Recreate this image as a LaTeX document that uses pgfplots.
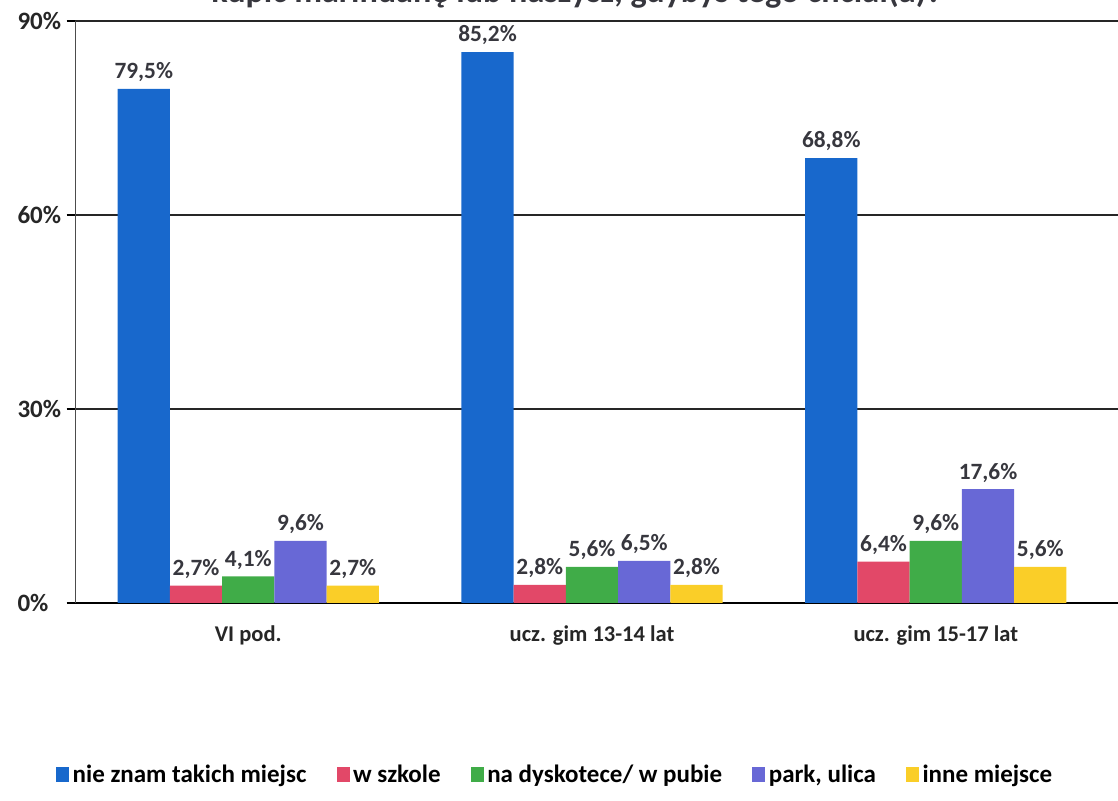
\documentclass[border=0pt]{standalone}
\usepackage{fontspec}
\setmainfont{Carlito}
\usepackage{pgfplots}
\pgfplotsset{compat=1.18}
\definecolor{cblue}{RGB}{24,104,204}
\definecolor{cred}{RGB}{226,72,104}
\definecolor{cgreen}{RGB}{64,172,72}
\definecolor{cpurple}{RGB}{104,104,214}
\definecolor{cyellow}{RGB}{250,206,40}
\definecolor{labgray}{RGB}{55,55,62}
\begin{document}
\begin{tikzpicture}
\useasboundingbox (0,0) rectangle (670.8pt,480.6pt);
\node[font=\fontsize{20.5}{24}\selectfont\bfseries, text=labgray] at (346pt,485pt) {kupić marihuanę lub haszysz, gdybyś tego chciał(a)?};
\begin{axis}[
  at={(45pt,118.8pt)}, anchor=south west,
  scale only axis, width=625.8pt, height=349.2pt,
  ymin=0, ymax=90, xmin=-0.504, xmax=2.53,
  ytick={0,30,60,90}, yticklabels={0\%,30\%,60\%,90\%},
  xtick={0,1,2}, xticklabels={VI pod.,ucz. gim 13-14 lat,ucz. gim 15-17 lat},
  xtick style={draw=none},
  ytick style={black, line width=0.8pt},
  tick align=outside, major tick length=5pt,
  axis x line*=bottom, axis y line*=left,
  x axis line style={black, line width=1pt, -},
  y axis line style={black!70, line width=0.6pt, -},
  ymajorgrids, grid style={black!85, line width=0.8pt},
  ticklabel style={font=\fontsize{15}{18}\selectfont\bfseries, text=black!85},
  yticklabel style={anchor=west, xshift=-33pt},
  xticklabel style={yshift=-5pt, font=\fontsize{13.5}{16}\selectfont\bfseries},
  ybar=0pt, bar width=0.152,
  every axis plot/.append style={draw=none},
  point meta=explicit symbolic,
  nodes near coords,
  nodes near coords style={font=\fontsize{14}{16}\selectfont\bfseries, text=labgray, inner sep=4pt},
  clip=false,
  legend columns=5,
  legend style={at={(0.461,-0.2955)}, anchor=center, draw=none, fill=none,
    font=\fontsize{15}{18}\selectfont\bfseries,
    /tikz/every even column/.append style={column sep=16pt}},
  legend image code/.code={\fill[#1] (0pt,-4pt) rectangle (8pt,5pt);},
]
\addplot[fill=cblue] coordinates {(0,79.5) [79,5\%] (1,85.2) [85,2\%] (2,68.8) [68,8\%]};
\addplot[fill=cred] coordinates {(0,2.7) [2,7\%] (1,2.8) [2,8\%] (2,6.4) [6,4\%]};
\addplot[fill=cgreen] coordinates {(0,4.1) [4,1\%] (1,5.6) [5,6\%] (2,9.6) [9,6\%]};
\addplot[fill=cpurple] coordinates {(0,9.6) [9,6\%] (1,6.5) [6,5\%] (2,17.6) [17,6\%]};
\addplot[fill=cyellow] coordinates {(0,2.7) [2,7\%] (1,2.8) [2,8\%] (2,5.6) [5,6\%]};
\legend{nie znam takich miejsc, w szkole, na dyskotece/ w pubie, {park, ulica}, inne miejsce}
\end{axis}
\end{tikzpicture}
\end{document}
